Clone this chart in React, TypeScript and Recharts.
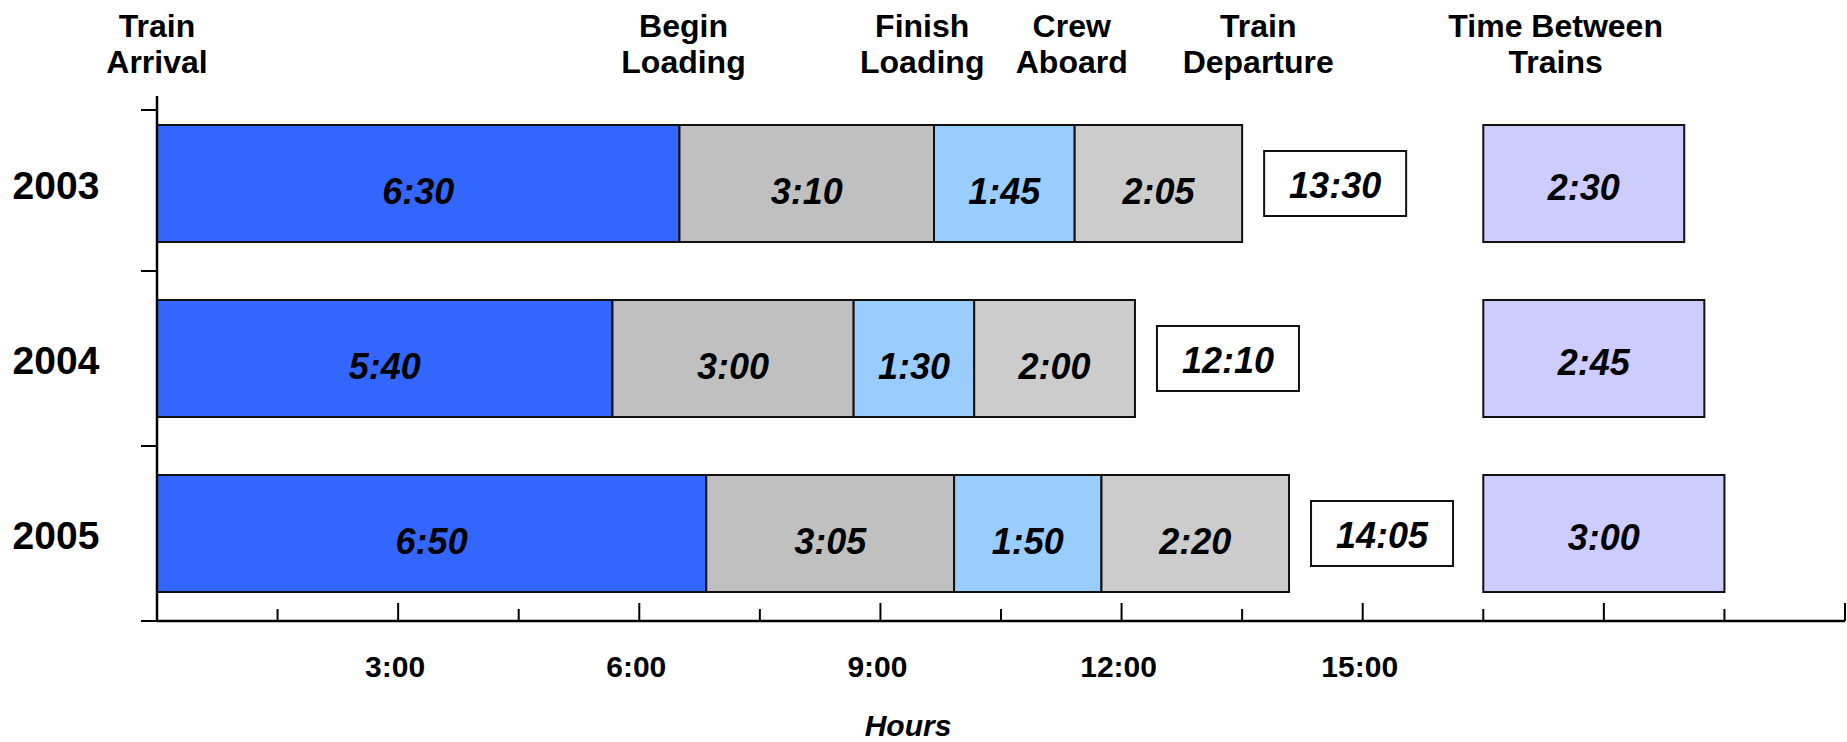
import { BarChart, Bar, XAxis, YAxis, LabelList, ReferenceLine } from "recharts"

// durations per year, h:mm
const years = ["2003", "2004", "2005"]
const arrivalToLoading = ["6:30", "5:40", "6:50"]
const loading = ["3:10", "3:00", "3:05"]
const loadedToCrew = ["1:45", "1:30", "1:50"]
const crewToDeparture = ["2:05", "2:00", "2:20"]
const betweenTrains = ["2:30", "2:45", "3:00"]

// axis ticks in hours
const hourTicks = [0, 1.5, 3, 4.5, 6, 7.5, 9, 10.5, 12, 13.5, 15, 16.5, 18, 19.5, 21]
const labeledHours = [3, 6, 9, 12, 15]

// milestone headings along the top
const milestoneNames = [
  ["Train", "Arrival"],
  ["Begin", "Loading"],
  ["Finish", "Loading"],
  ["Crew", "Aboard"],
  ["Train", "Departure"],
  ["Time Between", "Trains"],
]
const milestoneHours = [0, 6.55, 9.52, 11.38, 13.7, 17.4]

const BETWEEN_START = 16.5

const WIDTH = 1847
const HEIGHT = 742
const TOP_H = 96
const BOTTOM_H = 121
const LEFT_W = 157
const BAND = (HEIGHT - TOP_H - BOTTOM_H) / years.length

const FONT = '"Liberation Sans", Arial, Helvetica, sans-serif'

const toHours = (s: string) => {
  const [h, m] = s.split(":").map(Number)
  return h + m / 60
}

const fmt = (hours: number) => {
  const mins = Math.round(hours * 60)
  return `${Math.floor(mins / 60)}:${String(mins % 60).padStart(2, "0")}`
}

const data = years.map((year, i) => {
  const a = toHours(arrivalToLoading[i])
  const b = toHours(loading[i])
  const c = toHours(loadedToCrew[i])
  const d = toHours(crewToDeparture[i])
  const total = a + b + c + d
  return {
    year,
    arrivalToLoading: a,
    loading: b,
    loadedToCrew: c,
    crewToDeparture: d,
    total: fmt(total),
    gap: BETWEEN_START - total,
    betweenTrains: toHours(betweenTrains[i]),
  }
})

const box = (props: any) => props.viewBox ?? props

const segmentLabel = (dy: number) => (props: any) => {
  const { x, y, width, height } = box(props)
  if (width == null) return null
  return (
    <text
      x={x + width / 2}
      y={y + height / 2 + dy}
      textAnchor="middle"
      fontFamily={FONT}
      fontSize={36}
      fontWeight="bold"
      fontStyle="italic"
      fill="#000"
    >
      {fmt(Number(props.value))}
    </text>
  )
}

// white total box just past the end of each stack
const TotalBox = (props: any) => {
  const { x, y, width, height } = box(props)
  if (width == null) return null
  const bx = x + width + 22
  const bw = 142
  const bh = 65
  const cy = y + height / 2
  return (
    <g>
      <rect x={bx} y={cy - bh / 2} width={bw} height={bh} fill="#fff" stroke="#111" strokeWidth={2} />
      <text
        x={bx + bw / 2}
        y={cy + 14}
        textAnchor="middle"
        fontFamily={FONT}
        fontSize={36}
        fontWeight="bold"
        fontStyle="italic"
        fill="#000"
      >
        {props.value}
      </text>
    </g>
  )
}

const HourTick = (props: any) => {
  const { x, y, payload } = props
  const v = payload.value
  const major = v % 3 === 0
  return (
    <g>
      {v > 0 && <line x1={x} x2={x} y1={y} y2={y - (major ? 18 : 12)} stroke="#000" strokeWidth={2} />}
      {labeledHours.includes(v) && (
        <text x={x - 3} y={y + 56} textAnchor="middle" fontFamily={FONT} fontSize={30} fontWeight="bold" fill="#000">
          {`${v}:00`}
        </text>
      )}
    </g>
  )
}

const YearTick = (props: any) => {
  const { x, y, payload, index } = props
  return (
    <g>
      <text x={56} y={y + 15} textAnchor="middle" fontFamily={FONT} fontSize={39} fontWeight="bold" fill="#000">
        {payload.value}
      </text>
      <line x1={x - 16} x2={x} y1={y + BAND / 2} y2={y + BAND / 2} stroke="#000" strokeWidth={2} />
      {index === 0 && <line x1={x - 16} x2={x} y1={y - BAND / 2 + 14} y2={y - BAND / 2 + 14} stroke="#000" strokeWidth={2} />}
    </g>
  )
}

const milestoneLabel = (lines: string[]) => (props: any) => {
  const { x } = box(props)
  if (x == null) return null
  return (
    <g>
      {lines.map((line, k) => (
        <text
          key={k}
          x={x}
          y={37 + k * 36}
          textAnchor="middle"
          fontFamily={FONT}
          fontSize={32}
          fontWeight="bold"
          fill="#000"
        >
          {line}
        </text>
      ))}
    </g>
  )
}

const HoursLabel = () => (
  <text x={908} y={736} textAnchor="middle" fontFamily={FONT} fontSize={30} fontWeight="bold" fontStyle="italic" fill="#000">
    Hours
  </text>
)

export default function App() {
  return (
    <div style={{ position: "absolute", left: 0, top: 0, background: "#fff" }}>
      <BarChart
        layout="vertical"
        width={WIDTH}
        height={HEIGHT}
        data={data}
        margin={{ top: TOP_H, right: 2, bottom: 0, left: 0 }}
        barSize={117}
      >
        <XAxis
          type="number"
          domain={[0, 21]}
          ticks={hourTicks}
          interval={0}
          height={BOTTOM_H}
          axisLine={{ stroke: "#000", strokeWidth: 2.5 }}
          tickLine={false}
          tickSize={0}
          tickMargin={0}
          tick={<HourTick />}
          label={<HoursLabel />}
        />
        <YAxis
          type="category"
          dataKey="year"
          width={LEFT_W}
          interval={0}
          axisLine={{ stroke: "#000", strokeWidth: 2.5 }}
          tickLine={false}
          tickSize={0}
          tickMargin={0}
          tick={<YearTick />}
        />
        <Bar dataKey="arrivalToLoading" stackId="t" fill="#3366FF" stroke="#111" strokeWidth={2} isAnimationActive={false}>
          <LabelList dataKey="arrivalToLoading" content={segmentLabel(20)} />
        </Bar>
        <Bar dataKey="loading" stackId="t" fill="#C0C0C0" stroke="#111" strokeWidth={2} isAnimationActive={false}>
          <LabelList dataKey="loading" content={segmentLabel(20)} />
        </Bar>
        <Bar dataKey="loadedToCrew" stackId="t" fill="#99CCFF" stroke="#111" strokeWidth={2} isAnimationActive={false}>
          <LabelList dataKey="loadedToCrew" content={segmentLabel(20)} />
        </Bar>
        <Bar dataKey="crewToDeparture" stackId="t" fill="#CCCCCC" stroke="#111" strokeWidth={2} isAnimationActive={false}>
          <LabelList dataKey="crewToDeparture" content={segmentLabel(20)} />
          <LabelList dataKey="total" content={TotalBox} />
        </Bar>
        <Bar dataKey="gap" stackId="t" fill="transparent" stroke="none" isAnimationActive={false} />
        <Bar dataKey="betweenTrains" stackId="t" fill="#CCCCFF" stroke="#111" strokeWidth={2} isAnimationActive={false}>
          <LabelList dataKey="betweenTrains" content={segmentLabel(16)} />
        </Bar>
        {milestoneHours.map((h, i) => (
          <ReferenceLine key={i} x={h} stroke="none" label={milestoneLabel(milestoneNames[i])} />
        ))}
      </BarChart>
    </div>
  )
}
